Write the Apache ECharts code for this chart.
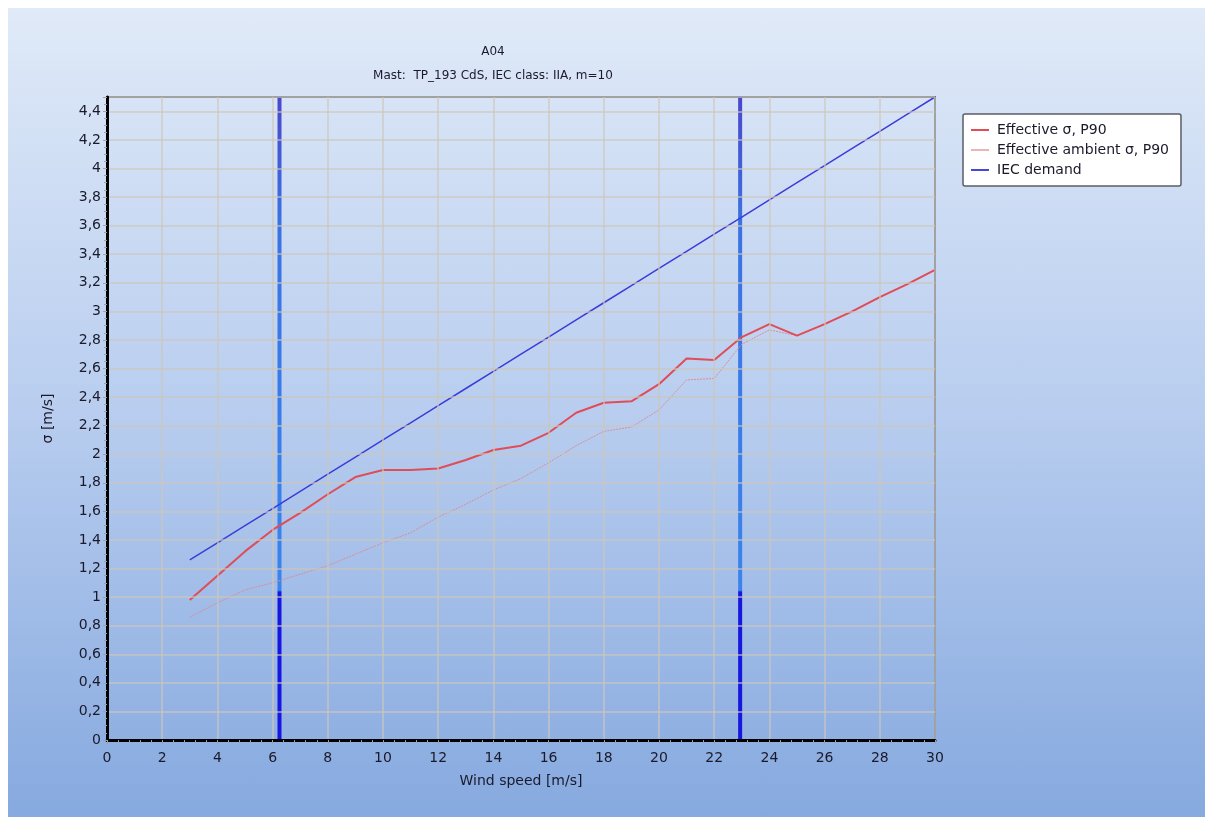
<!DOCTYPE html>
<html>
<head>
<meta charset="utf-8">
<script src="https://cdn.jsdelivr.net/npm/echarts@6/dist/echarts.min.js"></script>
<style>
    body { margin: 0; background: #ffffff; }
    #chart {
        position: absolute;
        left: 8px;
        top: 8px;
        width: 1197px;
        height: 809px;
        background: linear-gradient(to bottom, #e0eaf8 0%, #b8cdef 50%, #86a9df 100%);
    }
</style>
</head>
<body>
<div id="chart"></div>
<script>
// wind speed bins
const windSpeed = [3, 4, 5, 6, 7, 8, 9, 10, 11, 12, 13, 14, 15, 16, 17, 18, 19, 20, 21, 22, 23, 24, 25, 26, 27, 28, 29, 30];
const effectiveP90 = [0.98, 1.15, 1.32, 1.47, 1.59, 1.72, 1.84, 1.89, 1.89, 1.90, 1.96, 2.03, 2.06, 2.15, 2.29, 2.36, 2.37, 2.49, 2.67, 2.66, 2.82, 2.91, 2.83, 2.91, 3.00, 3.10, 3.19, 3.29];
const ambientP90 = [0.86, 0.96, 1.05, 1.10, 1.16, 1.22, 1.30, 1.38, 1.45, 1.56, 1.65, 1.75, 1.83, 1.94, 2.06, 2.16, 2.19, 2.31, 2.52, 2.53, 2.77, 2.87, 2.83, 2.91, 3.00, 3.10, 3.19, 3.29];
const iecDemand = [1.26, 1.38, 1.50, 1.62, 1.74, 1.86, 1.98, 2.10, 2.22, 2.34, 2.46, 2.58, 2.70, 2.82, 2.94, 3.06, 3.18, 3.30, 3.42, 3.54, 3.66, 3.78, 3.90, 4.02, 4.14, 4.26, 4.38, 4.50];
// cut-in / cut-out markers
const markerSpeeds = [6.25, 22.94];

const FONT = 'DejaVu Sans';
const comma = v => String(Math.round(v * 10) / 10).replace('.', ',');
const pairs = arr => windSpeed.map((x, i) => [x, arr[i]]);

let chart = echarts.init(document.getElementById('chart'));

let markerSeries = markerSpeeds.map(x => ({
    type: 'line',
    data: [[x, 0], [x, 4.5]],
    symbol: 'none',
    silent: true,
    z: 3,
    lineStyle: {
        width: 4,
        color: new echarts.graphic.LinearGradient(0, 0, 0, 1, [
            { offset: 0, color: '#4a46cc' },
            { offset: 0.2, color: '#3b72e2' },
            { offset: 0.765, color: '#3a84ec' },
            { offset: 0.768, color: '#1616e0' },
            { offset: 1, color: '#1616e0' }
        ])
    }
}));

let option = {
    animation: false,
    textStyle: { fontFamily: FONT },
    title: [
        {
            text: 'A04',
            left: 480,
            top: 33,
            textAlign: 'center',
            textStyle: { fontSize: 12, fontWeight: 'normal', color: '#1a1a2a', fontFamily: FONT }
        },
        {
            text: 'Mast:  TP_193 CdS, IEC class: IIA, m=10',
            left: 480,
            top: 57,
            textAlign: 'center',
            textStyle: { fontSize: 12, fontWeight: 'normal', color: '#1a1a2a', fontFamily: FONT }
        }
    ],
    legend: {
        data: ['Effective σ, P90', 'Effective ambient σ, P90', 'IEC demand'],
        orient: 'vertical',
        left: 955,
        top: 106,
        padding: [9, 12, 9, 8],
        itemGap: 6,
        itemWidth: 18,
        itemHeight: 14,
        backgroundColor: '#ffffff',
        borderColor: '#5a5e66',
        borderWidth: 1.5,
        borderRadius: 2,
        icon: 'path://M0,6 L18,6 L18,8 L0,8 Z',
        textStyle: { fontSize: 14, color: '#1a1a2a', fontFamily: FONT, padding: [0, 0, 0, 3] }
    },
    grid: {
        left: 99,
        top: 89,
        width: 828,
        height: 643,
        show: true,
        borderColor: '#636d7b',
        borderWidth: 2,
        backgroundColor: 'transparent'
    },
    xAxis: {
        type: 'value',
        min: 0,
        max: 30,
        interval: 2,
        name: 'Wind speed [m/s]',
        nameLocation: 'middle',
        nameGap: 34,
        nameTextStyle: { fontSize: 14, color: '#1a1a2a', fontFamily: FONT },
        axisLine: { show: true, onZero: false, lineStyle: { color: '#000000', width: 3 } },
        axisTick: { show: true, length: 4, lineStyle: { color: '#9aa2ae' } },
        minorTick: { show: true, splitNumber: 5, length: 3, lineStyle: { color: '#9aa2ae' } },
        axisLabel: { fontSize: 14, color: '#1a1a2a', margin: 11, fontFamily: FONT },
        splitLine: { show: true, lineStyle: { color: 'rgba(205,198,185,0.6)', width: 2 } },
        z: 5
    },
    yAxis: {
        type: 'value',
        min: 0,
        max: 4.5,
        interval: 0.2,
        name: 'σ [m/s]',
        nameLocation: 'middle',
        nameGap: 52,
        nameRotate: 90,
        nameTextStyle: { fontSize: 14, color: '#1a1a2a', fontFamily: FONT },
        axisLine: { show: true, onZero: false, lineStyle: { color: '#000000', width: 3 } },
        axisTick: { show: true, length: 4, lineStyle: { color: '#9aa2ae' } },
        minorTick: { show: true, splitNumber: 4, length: 3, lineStyle: { color: '#9aa2ae' } },
        axisLabel: { fontSize: 14, color: '#1a1a2a', margin: 6, showMaxLabel: false, fontFamily: FONT, formatter: comma },
        splitLine: { show: true, lineStyle: { color: 'rgba(205,198,185,0.6)', width: 2 } },
        z: 5
    },
    series: markerSeries.concat([
        {
            name: 'Effective ambient σ, P90',
            type: 'line',
            data: pairs(ambientP90),
            symbol: 'none',
            z: 4,
            itemStyle: { color: '#eab4b8' },
            lineStyle: { color: '#d88e96', width: 1, type: [2, 1] }
        },
        {
            name: 'Effective σ, P90',
            type: 'line',
            data: pairs(effectiveP90),
            symbol: 'none',
            z: 4,
            itemStyle: { color: '#e04c58' },
            lineStyle: { color: '#e04c58', width: 2 }
        },
        {
            name: 'IEC demand',
            type: 'line',
            data: pairs(iecDemand),
            symbol: 'none',
            z: 4,
            itemStyle: { color: '#4848d8' },
            lineStyle: { color: '#3c3cd8', width: 1.5 }
        }
    ])
};
chart.setOption(option);
window.onresize = chart.resize;
</script>
</body>
</html>
